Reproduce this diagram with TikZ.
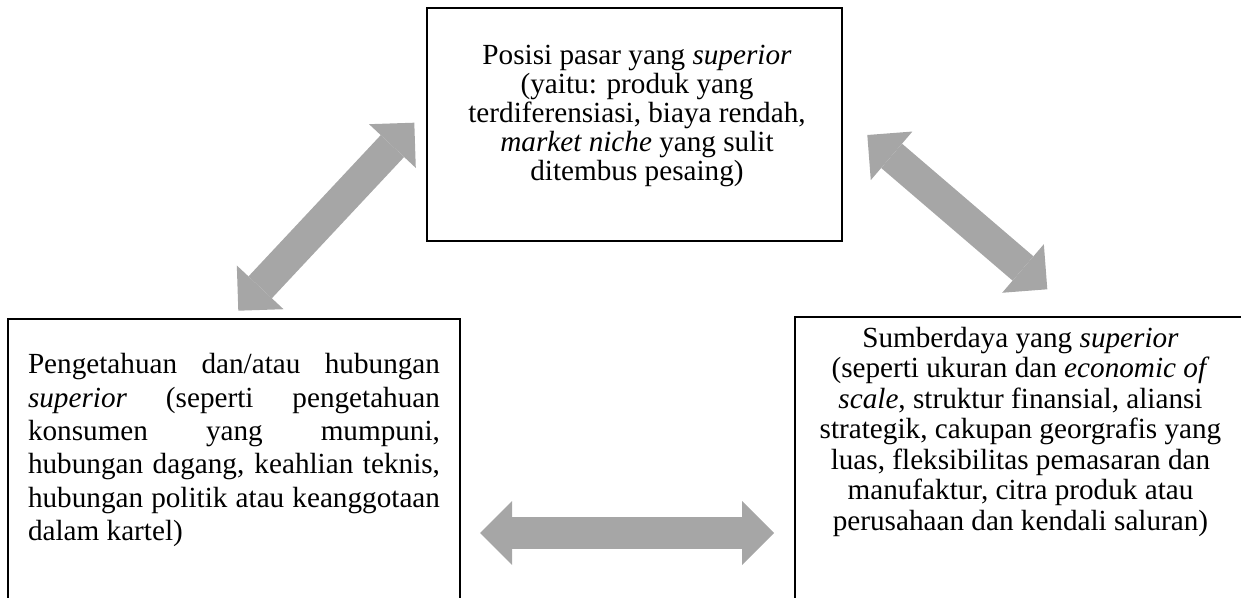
\documentclass[tikz,border=0pt]{standalone}
\usepackage{fontspec}
\setmainfont{Liberation Serif}
\usepackage{xcolor}
\usetikzlibrary{positioning,arrows.meta}
\definecolor{abupanah}{HTML}{A6A6A6}

\tikzset{
    kotak/.style={draw, line width=0.8pt, inner sep=0pt},
    isi/.style={inner sep=0pt, anchor=north, font=\fontsize{14.6pt}{#1}\selectfont},
    panah/.style={draw=abupanah, line width=16pt,
        {Triangle[length=16pt,width=32pt,line width=0pt]}-{Triangle[length=16pt,width=32pt,line width=0pt]}}
}

\begin{document}
\begin{tikzpicture}[x=0.5pt, y=-0.5pt]
    \useasboundingbox (0, 0) rectangle (1241, 598);
    \clip (0, 0) rectangle (1241, 598);

    % Posisi pasar
    \node [kotak, minimum width=207.5pt, minimum height=116.5pt] (pasar) at (634.5, 124.5) {};
    \node [isi=14.5pt, align=center] (pasarteks) at (637, 44.5)
        {Posisi pasar yang \emph{superior}\\ (yaitu: produk yang\\ terdiferensiasi, biaya rendah,\\ \emph{market niche} yang sulit\\ ditembus pesaing)};

    % Pengetahuan
    \node [kotak, minimum width=226pt, minimum height=163pt] (tahu) at (234, 482) {};
    \node [isi=16.65pt, text width=206pt, align=justify] (tahuteks) at (234, 353.3)
        {Pengetahuan dan/atau hubungan\linebreak \emph{superior} (seperti pengetahuan\linebreak konsumen yang mumpuni,\linebreak hubungan dagang, keahlian teknis,\linebreak hubungan politik atau keanggotaan\linebreak dalam kartel)};

    % Sumberdaya
    \node [kotak, minimum width=225.5pt, minimum height=163pt] (sumber) at (1020.5, 480) {};
    \node [isi=15.25pt, align=center] (sumberteks) at (1020.5, 326.7)
        {Sumberdaya yang \emph{superior}\\ (seperti ukuran dan \emph{economic of}\\ \emph{scale}, struktur finansial, aliansi\\ strategik, cakupan georgrafis yang\\ luas, fleksibilitas pemasaran dan\\ manufaktur, citra produk atau\\ perusahaan dan kendali saluran)};

    % panah dua arah
    \coordinate (kiriA) at (238.3, 310.7);
    \coordinate (kiriB) at (414.3, 122.7);
    \coordinate (kananA) at (867.3, 135);
    \coordinate (kananB) at (1047.3, 289.3);
    \coordinate (bawahA) at (480, 533);
    \coordinate (bawahB) at (774, 533);
    \draw [panah] (kiriA) -- (kiriB);
    \draw [panah] (kananA) -- (kananB);
    \draw [panah] (bawahA) -- (bawahB);
\end{tikzpicture}
\end{document}
